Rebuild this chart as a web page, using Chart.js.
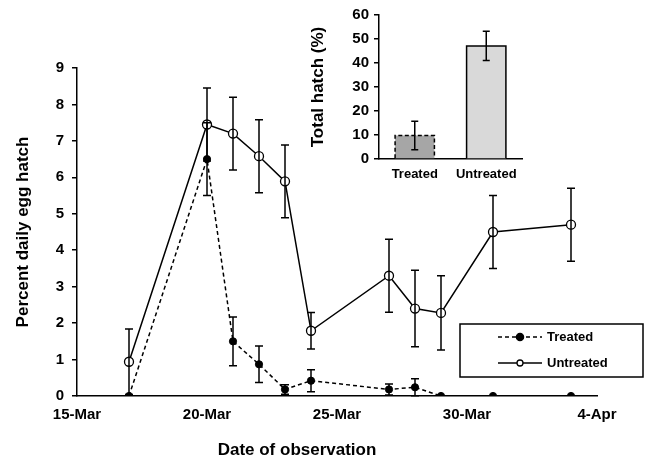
<!DOCTYPE html>
<html><head><meta charset="utf-8">
<script src="https://cdn.jsdelivr.net/npm/chart.js@4.4.1/dist/chart.umd.min.js"></script>
<style>
html,body{margin:0;padding:0;background:#fff;}
#wrap{position:relative;width:649px;height:462px;background:#fff;}
#main{position:absolute;left:0;top:0;}
#inset{position:absolute;left:295px;top:0;}
</style></head><body>
<div id="wrap"><canvas id="main" width="649" height="462"></canvas><canvas id="inset" width="260" height="190"></canvas></div>
<script>
// ---- data ----
const axisStartDate = '2021-03-15';
const observationDates = ['2021-03-17','2021-03-20','2021-03-21','2021-03-22','2021-03-23','2021-03-24','2021-03-27','2021-03-28','2021-03-29','2021-03-31','2021-04-03'];
const xTickLabels = ['15-Mar','20-Mar','25-Mar','30-Mar','4-Apr'];
const treatedDaily = [0, 6.5, 1.5, 0.87, 0.18, 0.42, 0.18, 0.24, 0, 0, 0];
const treatedDailyErr = [0, 1.0, 0.67, 0.5, 0.13, 0.3, 0.15, 0.23, 0, 0, 0];
const untreatedDaily = [0.94, 7.45, 7.2, 6.58, 5.89, 1.79, 3.3, 2.4, 2.28, 4.5, 4.7];
const untreatedDailyErr = [0.9, 1.0, 1.0, 1.0, 1.0, 0.5, 1.0, 1.05, 1.02, 1.0, 1.0];
const totalCategories = ['Treated', 'Untreated'];
const totalHatch = [9.8, 47.1];
const totalHatchErr = [5.9, 6.1];

// ---- helpers ----
const DAY = 86400000;
const dayOffset = d => Math.round((Date.parse(d) - Date.parse(axisStartDate)) / DAY);
const toPoints = vals => vals.map((v, i) => ({x: dayOffset(observationDates[i]), y: v}));

Chart.defaults.font.family = '"Liberation Sans", Arial, sans-serif';
Chart.defaults.color = '#000';
Chart.defaults.animation = false;

const zeroPad = s => { s.paddingLeft = 0; s.paddingRight = 0; s.paddingTop = 0; s.paddingBottom = 0; };

const errorBars = {
  id: 'errorBars',
  afterDatasetsDraw(chart, args, o) {
    const ctx = chart.ctx;
    chart.data.datasets.forEach((ds, i) => {
      if (!ds.errors) return;
      const meta = chart.getDatasetMeta(i);
      const yScale = chart.scales[meta.yAxisID];
      meta.data.forEach((el, j) => {
        const e = ds.errors[j];
        if (!e) return;
        const raw = ds.data[j];
        const v = typeof raw === 'object' ? raw.y : raw;
        const x = el.x;
        const yT = yScale.getPixelForValue(v + e);
        const yB = yScale.getPixelForValue(v - e);
        ctx.save();
        ctx.strokeStyle = '#000';
        ctx.lineWidth = o.width;
        ctx.beginPath();
        ctx.moveTo(x, yT); ctx.lineTo(x, yB);
        ctx.moveTo(x - o.cap, yT); ctx.lineTo(x + o.cap, yT);
        ctx.moveTo(x - o.cap, yB); ctx.lineTo(x + o.cap, yB);
        ctx.stroke();
        ctx.restore();
      });
    });
  }
};

const barOutline = {
  id: 'barOutline',
  afterDatasetsDraw(chart, args, o) {
    const ctx = chart.ctx;
    const meta = chart.getDatasetMeta(0);
    meta.data.forEach((el, j) => {
      const {x, y, base, width} = el.getProps(['x', 'y', 'base', 'width'], true);
      ctx.save();
      ctx.strokeStyle = '#000';
      ctx.lineWidth = o.width;
      ctx.setLineDash(o.dashes[j] || []);
      ctx.beginPath();
      ctx.moveTo(x - width / 2, base);
      ctx.lineTo(x - width / 2, y);
      ctx.lineTo(x + width / 2, y);
      ctx.lineTo(x + width / 2, base);
      ctx.stroke();
      ctx.restore();
    });
  }
};

const boxLegend = {
  id: 'boxLegend',
  afterDraw(chart, args, o) {
    const ctx = chart.ctx;
    ctx.save();
    ctx.strokeStyle = '#000';
    ctx.lineWidth = 1.5;
    ctx.strokeRect(o.left, o.top, o.width, o.height);
    chart.data.datasets.forEach((ds, i) => {
      const y = o.top + o.rowStart + i * o.rowGap;
      ctx.strokeStyle = '#000';
      ctx.lineWidth = ds.borderWidth;
      ctx.setLineDash(ds.borderDash || []);
      ctx.beginPath(); ctx.moveTo(o.lineX0, y); ctx.lineTo(o.lineX1, y); ctx.stroke();
      ctx.setLineDash([]);
      ctx.beginPath();
      ctx.arc((o.lineX0 + o.lineX1) / 2, y, o.radii[i], 0, Math.PI * 2);
      ctx.fillStyle = ds.pointBackgroundColor;
      ctx.fill();
      ctx.lineWidth = 1.3;
      ctx.stroke();
      ctx.fillStyle = '#000';
      ctx.font = o.font;
      ctx.textAlign = 'left';
      ctx.textBaseline = 'middle';
      ctx.fillText(ds.label, o.textX, y);
    });
    ctx.restore();
  }
};

const xTitle = {
  id: 'xTitle',
  afterDraw(chart, args, o) {
    const ctx = chart.ctx;
    ctx.save();
    ctx.fillStyle = '#000';
    ctx.font = o.font;
    ctx.textAlign = 'center';
    ctx.textBaseline = 'middle';
    ctx.fillText(o.text, o.x, o.y);
    ctx.restore();
  }
};

// ---- main chart ----
new Chart(document.getElementById('main'), {
  type: 'scatter',
  data: {
    datasets: [
      {
        label: 'Treated',
        data: toPoints(treatedDaily),
        errors: treatedDailyErr,
        showLine: true,
        borderColor: '#000',
        borderWidth: 1.5,
        borderDash: [4, 3],
        pointRadius: 3.6,
        pointBackgroundColor: '#000',
        pointBorderColor: '#000',
        pointBorderWidth: 1,
        tension: 0
      },
      {
        label: 'Untreated',
        data: toPoints(untreatedDaily),
        errors: untreatedDailyErr,
        showLine: true,
        borderColor: '#000',
        borderWidth: 1.5,
        pointRadius: 4.5,
        pointBackgroundColor: '#fff',
        pointBorderColor: '#000',
        pointBorderWidth: 1.3,
        tension: 0
      }
    ]
  },
  options: {
    responsive: false,
    layout: {padding: {left: 0, top: 68, right: 52, bottom: 0}},
    plugins: {
      legend: {display: false},
      tooltip: {enabled: false},
      errorBars: {width: 1.5, cap: 4},
      boxLegend: {left: 460, top: 324, width: 183, height: 53, rowStart: 13, rowGap: 26,
                  lineX0: 498, lineX1: 542, textX: 547, radii: [3.6, 3], font: 'bold 13px "Liberation Sans", Arial, sans-serif'},
      xTitle: {text: 'Date of observation', x: 297, y: 450, font: 'bold 17px "Liberation Sans", Arial, sans-serif'}
    },
    scales: {
      x: {
        type: 'linear',
        min: 0, max: 20,
        afterFit: s => { s.height = 66; zeroPad(s); },
        ticks: {stepSize: 5, padding: 10, font: {size: 15, weight: 'bold'}, color: '#000',
                callback: v => xTickLabels[Math.round(v / 5)]},
        grid: {display: false, drawTicks: false},
        border: {display: true, color: '#000', width: 1.5}
      },
      y: {
        type: 'linear',
        min: 0, max: 9,
        afterFit: s => { s.width = 77; zeroPad(s); },
        ticks: {stepSize: 1, padding: 8, font: {size: 15, weight: 'bold'}, color: '#000'},
        grid: {drawOnChartArea: false, drawTicks: true, tickLength: 5, color: '#000', lineWidth: 1.5},
        border: {display: true, color: '#000', width: 1.5},
        title: {display: true, text: 'Percent daily egg hatch', font: {size: 17, weight: 'bold'}, color: '#000', padding: {top: 13, bottom: 0}}
      }
    }
  },
  plugins: [errorBars, boxLegend, xTitle]
});

// ---- inset chart ----
new Chart(document.getElementById('inset'), {
  type: 'bar',
  data: {
    labels: totalCategories,
    datasets: [{
      label: 'Total hatch',
      data: totalHatch,
      errors: totalHatchErr,
      backgroundColor: ['#a6a6a6', '#d9d9d9'],
      borderWidth: 0,
      barPercentage: 0.55,
      categoryPercentage: 1
    }]
  },
  options: {
    responsive: false,
    layout: {padding: {left: 0, top: 15, right: 33, bottom: 0}},
    plugins: {
      legend: {display: false},
      tooltip: {enabled: false},
      barOutline: {width: 1.5, dashes: [[4, 2.5], []]},
      errorBars: {width: 1.5, cap: 3.5}
    },
    scales: {
      x: {
        afterFit: s => { s.height = 31; zeroPad(s); },
        ticks: {padding: 7.5, font: {size: 13, weight: 'bold'}, color: '#000'},
        grid: {display: false, drawTicks: false},
        border: {display: true, color: '#000', width: 1.5}
      },
      y: {
        min: 0, max: 60,
        afterFit: s => { s.width = 84; zeroPad(s); },
        ticks: {stepSize: 10, padding: 5, font: {size: 15, weight: 'bold'}, color: '#000'},
        grid: {drawOnChartArea: false, drawTicks: true, tickLength: 5, color: '#000', lineWidth: 1.5},
        border: {display: true, color: '#000', width: 1.5},
        title: {display: true, text: 'Total hatch (%)', font: {size: 17, weight: 'bold'}, color: '#000', padding: {top: 13, bottom: 0}}
      }
    }
  },
  plugins: [barOutline, errorBars]
});
</script>
</body></html>
